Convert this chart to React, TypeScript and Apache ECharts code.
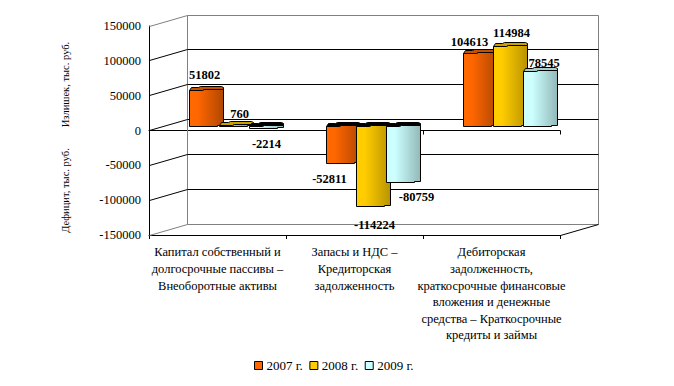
import React, { useEffect, useRef } from "react";
import * as echarts from "echarts";

const categories = [
  "Капитал собственный и\nдолгосрочные пассивы –\nВнеоборотные активы",
  "Запасы и НДС –\nКредиторская\nзадолженность",
  "Дебиторская\nзадолженность,\nкраткосрочные финансовые\nвложения и денежные\nсредства – Краткосрочные\nкредиты и займы",
];
const seriesNames = ["2007 г.", "2008 г.", "2009 г."];
const values2007 = [51802, -52811, 104613];
const values2008 = [760, -114224, 114984];
const values2009 = [-2214, -80759, 78545];
const axisTicks = [150000, 100000, 50000, 0, -50000, -100000, -150000];

const FONT = "'Liberation Serif', serif";
const DEPTH_X = 38;
const DEPTH_Y = 11;
const palette = [
  { base: "#FF6600", light: "#FF6A00", dark: "#B04700", cap: "#C45000" },
  { base: "#FFCC00", light: "#FFCF00", dark: "#B89300", cap: "#C8A000" },
  { base: "#CCFFFF", light: "#CFFFFF", dark: "#93B8B8", cap: "#A9CDCD" },
];
const labelNudge = [
  [[-2, -15.5], [-14, 15.7], [-11, -11.3]],
  [[3, -11.8], [1, 18], [1, -13.7]],
  [[0, 15.5], [13, 14], [3.5, -9]],
];
const crisp = (v: number) => Math.floor(v) + 0.5;

function barRender(seriesIdx: number) {
  return (params: any, api: any) => {
    const cat = api.value(0);
    const v = api.value(1);
    const band = api.size([1, 0])[0];
    const center = api.coord([cat, 0])[0];
    const x0 = center - band / 2 + 40.5 + seriesIdx * 30;
    const w = 34;
    const y0 = crisp(api.coord([cat, 0])[1]) - 4;
    const yv = crisp(api.coord([cat, v])[1] - 4);
    const yt = Math.min(y0, yv);
    const yb = Math.max(y0, yv);
    const c = palette[seriesIdx];
    const grad = new echarts.graphic.LinearGradient(0, 0, 1, 0, [
      { offset: 0, color: c.light },
      { offset: 0.25, color: c.base },
      { offset: 1, color: c.dark },
    ]);
    const body = [
      [x0, yt], [x0 + 13, yt], [x0 + 15, yt - 1], [x0 + w, yt - 1],
      [x0 + w, Math.max(yb - 1, yt - 1)], [x0 + w - 6, Math.max(yb - 1, yt - 1)],
      [x0 + w - 6, yb], [x0, yb],
    ];
    const cap = [
      [x0, yt], [x0 + 2, yt - 3], [x0 + 9, yt - 3], [x0 + 11, yt - 4],
      [x0 + w - 2, yt - 4], [x0 + w, yt - 3], [x0 + w, yt - 1], [x0 + 15, yt - 1], [x0 + 13, yt],
    ];
    const stroke = { stroke: "#000", lineWidth: 1 };
    const [dx, dy] = labelNudge[seriesIdx][cat];
    return {
      type: "group",
      children: [
        { type: "polygon", shape: { points: cap }, style: { fill: v < 0 ? "#000" : c.cap, ...stroke } },
        { type: "polygon", shape: { points: body }, style: { fill: grad, ...stroke } },
        {
          type: "text",
          z2: 100,
          x: x0 + 17 + dx,
          y: yv + dy,
          style: {
            text: String(v),
            fill: "#000",
            font: `bold 12.5px ${FONT}`,
            align: "center",
            verticalAlign: "middle",
          },
        },
      ],
    };
  };
}

function wallRender(params: any, api: any) {
  const cs = params.coordSys;
  const v = api.value(1);
  const y = crisp(api.coord([0, v])[1]);
  const left = cs.x + 0.5;
  const backL = left + DEPTH_X;
  const backR = backL + cs.width;
  const backY = y - DEPTH_Y;
  const edge = v === axisTicks[0] || v === axisTicks[axisTicks.length - 1];
  const color = edge ? "#808080" : "#000";
  const line = (x1: number, y1: number, x2: number, y2: number, col = color) => ({
    type: "line",
    shape: { x1, y1, x2, y2 },
    style: { stroke: col, lineWidth: 1 },
  });
  const children = [line(left, y, backL, backY), line(backL, backY, backR, backY)];
  if (v === axisTicks[0]) {
    const yBottom = crisp(api.coord([0, axisTicks[axisTicks.length - 1]])[1]) - DEPTH_Y;
    children.push(line(backL, backY, backL, yBottom), line(backR, backY, backR, yBottom));
  }
  if (v === axisTicks[axisTicks.length - 1]) {
    children.push(line(left + cs.width, y, backR, backY, "#000"));
  }
  return { type: "group", children };
}

export default function App() {
  const ref = useRef<HTMLDivElement>(null);
  useEffect(() => {
    const chart = echarts.init(ref.current!, null, { renderer: "svg" });
    const allValues = [values2007, values2008, values2009];
    chart.setOption({
      animation: false,
      backgroundColor: "#fff",
      textStyle: { fontFamily: FONT },
      grid: { left: 149, top: 26, width: 411, height: 209, containLabel: false },
      legend: {
        data: seriesNames,
        selectedMode: false,
        left: 254,
        top: 359,
        icon: "rect",
        itemWidth: 8,
        itemHeight: 8,
        itemGap: 6.5,
        padding: 0,
        itemStyle: { borderColor: "#000", borderWidth: 1 },
        textStyle: { fontFamily: FONT, fontSize: 13, color: "#000", padding: [0, 0, 0, -1] },
      },
      xAxis: [
        {
          type: "category",
          data: categories,
          position: "bottom",
          axisLine: { onZero: false, lineStyle: { color: "#000", width: 1 } },
          axisTick: { show: true, length: 4, lineStyle: { color: "#000" } },
          axisLabel: {
            interval: 0,
            hideOverlap: false,
            margin: 9,
            color: "#000",
            fontFamily: FONT,
            fontSize: 12.5,
            lineHeight: 16.6,
            align: "center",
            verticalAlign: "top",
          },
        },
        {
          type: "category",
          data: categories,
          position: "bottom",
          axisLine: { onZero: true, lineStyle: { color: "#000", width: 1 } },
          axisTick: { show: true, length: 4, lineStyle: { color: "#000" } },
          axisLabel: { show: false },
        },
      ],
      yAxis: {
        type: "value",
        min: -150000,
        max: 150000,
        interval: 50000,
        axisLine: { show: true, onZero: false, lineStyle: { color: "#000", width: 1 } },
        axisTick: { show: false },
        splitLine: { show: false },
        axisLabel: {
          color: "#000",
          fontFamily: FONT,
          fontSize: 12.5,
          margin: 8,
          formatter: (v: number) => String(v),
        },
      },
      series: [
        {
          name: "wall",
          type: "custom",
          z: 1,
          silent: true,
          renderItem: wallRender,
          data: axisTicks.map((t) => [0, t]),
          encode: { x: 0, y: 1 },
        },
        ...seriesNames.map((name, i) => ({
          name,
          type: "custom",
          z: 2,
          itemStyle: { color: palette[i].base },
          renderItem: barRender(i),
          data: allValues[i].map((v, c) => [c, v]),
          encode: { x: 0, y: 1 },
        })),
      ],
      graphic: [
        {
          type: "text",
          x: 65,
          y: 84.5,
          rotation: Math.PI / 2,
          style: { text: "Излишек, тыс. руб.", font: `10.5px ${FONT}`, fill: "#000", align: "center", verticalAlign: "middle" },
        },
        {
          type: "text",
          x: 65,
          y: 190.5,
          rotation: Math.PI / 2,
          style: { text: "Дефицит, тыс. руб.", font: `10.5px ${FONT}`, fill: "#000", align: "center", verticalAlign: "middle" },
        },
      ],
    });
    return () => chart.dispose();
  }, []);
  return <div ref={ref} style={{ position: "fixed", left: 0, top: 0, width: 674, height: 386 }} />;
}
